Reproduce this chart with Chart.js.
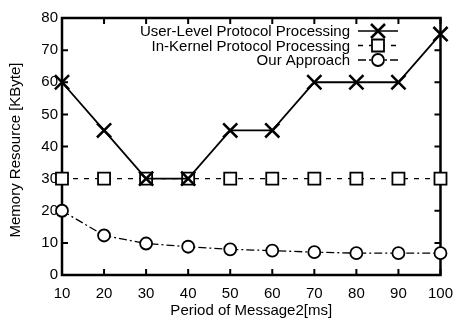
<!DOCTYPE html>
<html>
<head>
<meta charset="utf-8">
<script src="https://cdn.jsdelivr.net/npm/chart.js@4/dist/chart.umd.min.js"></script>
<style>
  html, body { margin: 0; padding: 0; background: #fff; }
  #wrap { width: 463px; height: 322px; position: relative; }
</style>
</head>
<body>
<div id="wrap"><canvas id="c"></canvas></div>
<script>
// ── Data ──────────────────────────────────────────────────────────────────────
const PERIODS   = [10, 20, 30, 40, 50, 60, 70, 80, 90, 100];
const USER_LVL  = [60, 45, 30, 30, 45, 45, 60, 60, 60, 75];
const IN_KERNEL = [30, 30, 30, 30, 30, 30, 30, 30, 30, 30];
const OURS      = [20, 12.3, 9.8, 8.8, 8, 7.6, 7.1, 6.8, 6.8, 6.8];
const LABELS    = ["User-Level Protocol Processing", "In-Kernel Protocol Processing", "Our Approach"];
const X_TICKS   = [10, 20, 30, 40, 50, 60, 70, 80, 90, 100];
const Y_TICKS   = [0, 10, 20, 30, 40, 50, 60, 70, 80];

const FONT = "Liberation Sans, Arial, Helvetica, sans-serif";
const pts = arr => arr.map((v, i) => ({ x: PERIODS[i], y: v }));

// ── Frame, inward ticks, titles, legend ───────────────────────────────────────
const framePlugin = {
  id: "frame",
  beforeDatasetsDraw(chart) {
    const { ctx, chartArea: a, scales: { x, y } } = chart;
    ctx.save();
    ctx.strokeStyle = "#000";
    ctx.lineWidth = 2.5;
    ctx.strokeRect(a.left, a.top, a.right - a.left, a.bottom - a.top);
    ctx.lineWidth = 2;
    const tl = 6;
    ctx.beginPath();
    X_TICKS.forEach(v => {
      const px = x.getPixelForValue(v);
      ctx.moveTo(px, a.bottom); ctx.lineTo(px, a.bottom - tl);
      ctx.moveTo(px, a.top);    ctx.lineTo(px, a.top + tl);
    });
    Y_TICKS.forEach(v => {
      const py = y.getPixelForValue(v);
      ctx.moveTo(a.left, py);  ctx.lineTo(a.left + tl, py);
      ctx.moveTo(a.right, py); ctx.lineTo(a.right - tl, py);
    });
    ctx.stroke();

    // axis titles
    ctx.fillStyle = "#000";
    ctx.font = "15px " + FONT;
    ctx.textAlign = "center";
    ctx.textBaseline = "middle";
    ctx.fillText("Period of Message2[ms]", (a.left + a.right) / 2, 311);
    ctx.translate(16, 150);
    ctx.rotate(-Math.PI / 2);
    ctx.fillText("Memory Resource [KByte]", 0, 0);
    ctx.restore();
  },
  afterDatasetsDraw(chart) {
    const { ctx } = chart;
    ctx.save();
    ctx.font = "15px " + FONT;
    ctx.textAlign = "right";
    ctx.textBaseline = "middle";
    ctx.fillStyle = "#000";
    chart.data.datasets.forEach((ds, i) => {
      const yy = 31 + i * 14.5;
      ctx.fillText(LABELS[i], 350, yy + 1);
      ctx.strokeStyle = "#000";
      ctx.lineWidth = 1.5;
      ctx.setLineDash(ds.borderDash || []);
      ctx.beginPath();
      ctx.moveTo(358, yy); ctx.lineTo(398, yy);
      ctx.stroke();
      ctx.setLineDash([]);
      ctx.lineWidth = ds.pointBorderWidth;
      const mx = 378;
      ctx.beginPath();
      if (ds.pointStyle === "crossRot") {
        const r = 7;
        ctx.moveTo(mx - r, yy - r); ctx.lineTo(mx + r, yy + r);
        ctx.moveTo(mx + r, yy - r); ctx.lineTo(mx - r, yy + r);
      } else if (ds.pointStyle === "rect") {
        ctx.rect(mx - 6, yy - 6, 12, 12);
      } else {
        ctx.arc(mx, yy, 6, 0, Math.PI * 2);
      }
      ctx.fillStyle = "#fff";
      if (ds.pointStyle !== "crossRot") ctx.fill();
      ctx.stroke();
      ctx.fillStyle = "#000";
    });
    ctx.restore();
  }
};

// ── Chart ─────────────────────────────────────────────────────────────────────
new Chart(document.getElementById("c"), {
  type: "line",
  data: {
    datasets: [
      {
        label: LABELS[0], data: pts(USER_LVL),
        borderColor: "#000", borderWidth: 1.8,
        pointStyle: "crossRot", pointRadius: 10, pointBorderWidth: 2.5,
        pointBorderColor: "#000", pointBackgroundColor: "#000",
      },
      {
        label: LABELS[1], data: pts(IN_KERNEL),
        borderColor: "#000", borderWidth: 1.3, borderDash: [5, 6],
        pointStyle: "rect", pointRadius: 8.5, pointBorderWidth: 1.8,
        pointBorderColor: "#000", pointBackgroundColor: "#fff",
      },
      {
        label: LABELS[2], data: pts(OURS),
        borderColor: "#000", borderWidth: 1.3, borderDash: [8, 3, 2, 3],
        pointStyle: "circle", pointRadius: 6, pointBorderWidth: 1.8,
        pointBorderColor: "#000", pointBackgroundColor: "#fff",
      },
    ],
  },
  options: {
    responsive: true,
    maintainAspectRatio: false,
    animation: false,
    clip: false,
    layout: { padding: { top: 18, right: 16, left: 0, bottom: 0 } },
    plugins: { legend: { display: false }, tooltip: { enabled: false } },
    scales: {
      x: {
        type: "linear", min: 10, max: 100,
        afterFit: s => { s.height = 47; },
        afterBuildTicks: s => { s.ticks = X_TICKS.map(v => ({ value: v })); },
        grid: { display: false, drawTicks: false },
        border: { display: false },
        ticks: { color: "#000", padding: 10, maxRotation: 0, font: { family: FONT, size: 15 } },
      },
      y: {
        min: 0, max: 80,
        afterFit: s => { s.width = 62; },
        afterBuildTicks: s => { s.ticks = Y_TICKS.map(v => ({ value: v })); },
        grid: { display: false, drawTicks: false },
        border: { display: false },
        ticks: { color: "#000", padding: 4, font: { family: FONT, size: 15 } },
      },
    },
  },
  plugins: [framePlugin],
});
</script>
</body>
</html>
